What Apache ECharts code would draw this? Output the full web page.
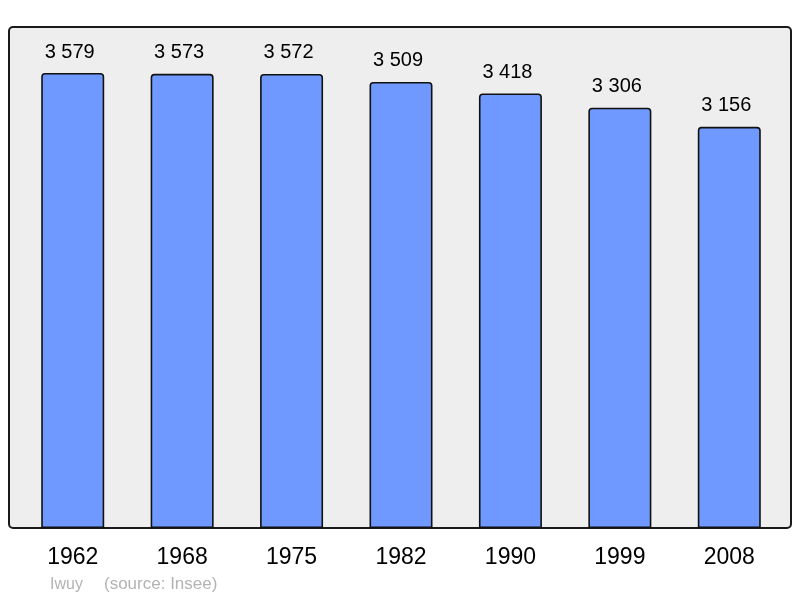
<!DOCTYPE html>
<html>
<head>
<meta charset="utf-8">
<script src="https://cdn.jsdelivr.net/npm/echarts@6/dist/echarts.min.js"></script>
<style>
  html, body { margin: 0; padding: 0; background: #fff; }
  #chart { width: 800px; height: 598px; }
</style>
</head>
<body>
<div id="chart"></div>
<script>
const years = ['1962', '1968', '1975', '1982', '1990', '1999', '2008']
const population = [3579, 3573, 3572, 3509, 3418, 3306, 3156]

const fmt = (v) => String(v).replace(/\B(?=(\d{3})+(?!\d))/g, ' ')

const chart = echarts.init(document.getElementById('chart'))

chart.setOption({
  animation: false,
  textStyle: { fontFamily: 'Liberation Sans, Arial, sans-serif' },
  grid: {
    left: 18,
    top: 27,
    width: 766,
    height: 501
  },
  graphic: [
    {
      type: 'rect',
      z: -10,
      shape: { x: 9, y: 27, width: 782, height: 501, r: 4 },
      style: { fill: '#eeeeee', stroke: '#1a1a1a', lineWidth: 2 }
    },
    {
      type: 'text',
      left: 50, top: 577,
      style: { text: 'Iwuy', fill: '#b3b3b3', font: '16px Liberation Sans, Arial, sans-serif' }
    },
    {
      type: 'text',
      left: 104, top: 576,
      style: { text: '(source: Insee)', fill: '#b3b3b3', font: '17px Liberation Sans, Arial, sans-serif' }
    }
  ],
  xAxis: {
    type: 'category',
    data: years,
    axisLine: { show: false },
    axisTick: { show: false },
    axisLabel: { color: '#000', fontSize: 23, margin: 18 }
  },
  yAxis: {
    type: 'value',
    min: 0,
    max: 3941,
    show: false,
    splitLine: { show: false }
  },
  series: [{
    type: 'bar',
    data: population,
    barWidth: 63,
    itemStyle: {
      color: '#7099ff',
      borderColor: '#111',
      borderWidth: 1.6,
      borderRadius: [3, 3, 0, 0]
    },
    label: {
      show: true,
      position: 'top',
      distance: 11,
      offset: [-3, 0],
      color: '#000',
      fontSize: 20,
      formatter: (p) => fmt(p.value)
    }
  }]
})
</script>
</body>
</html>
